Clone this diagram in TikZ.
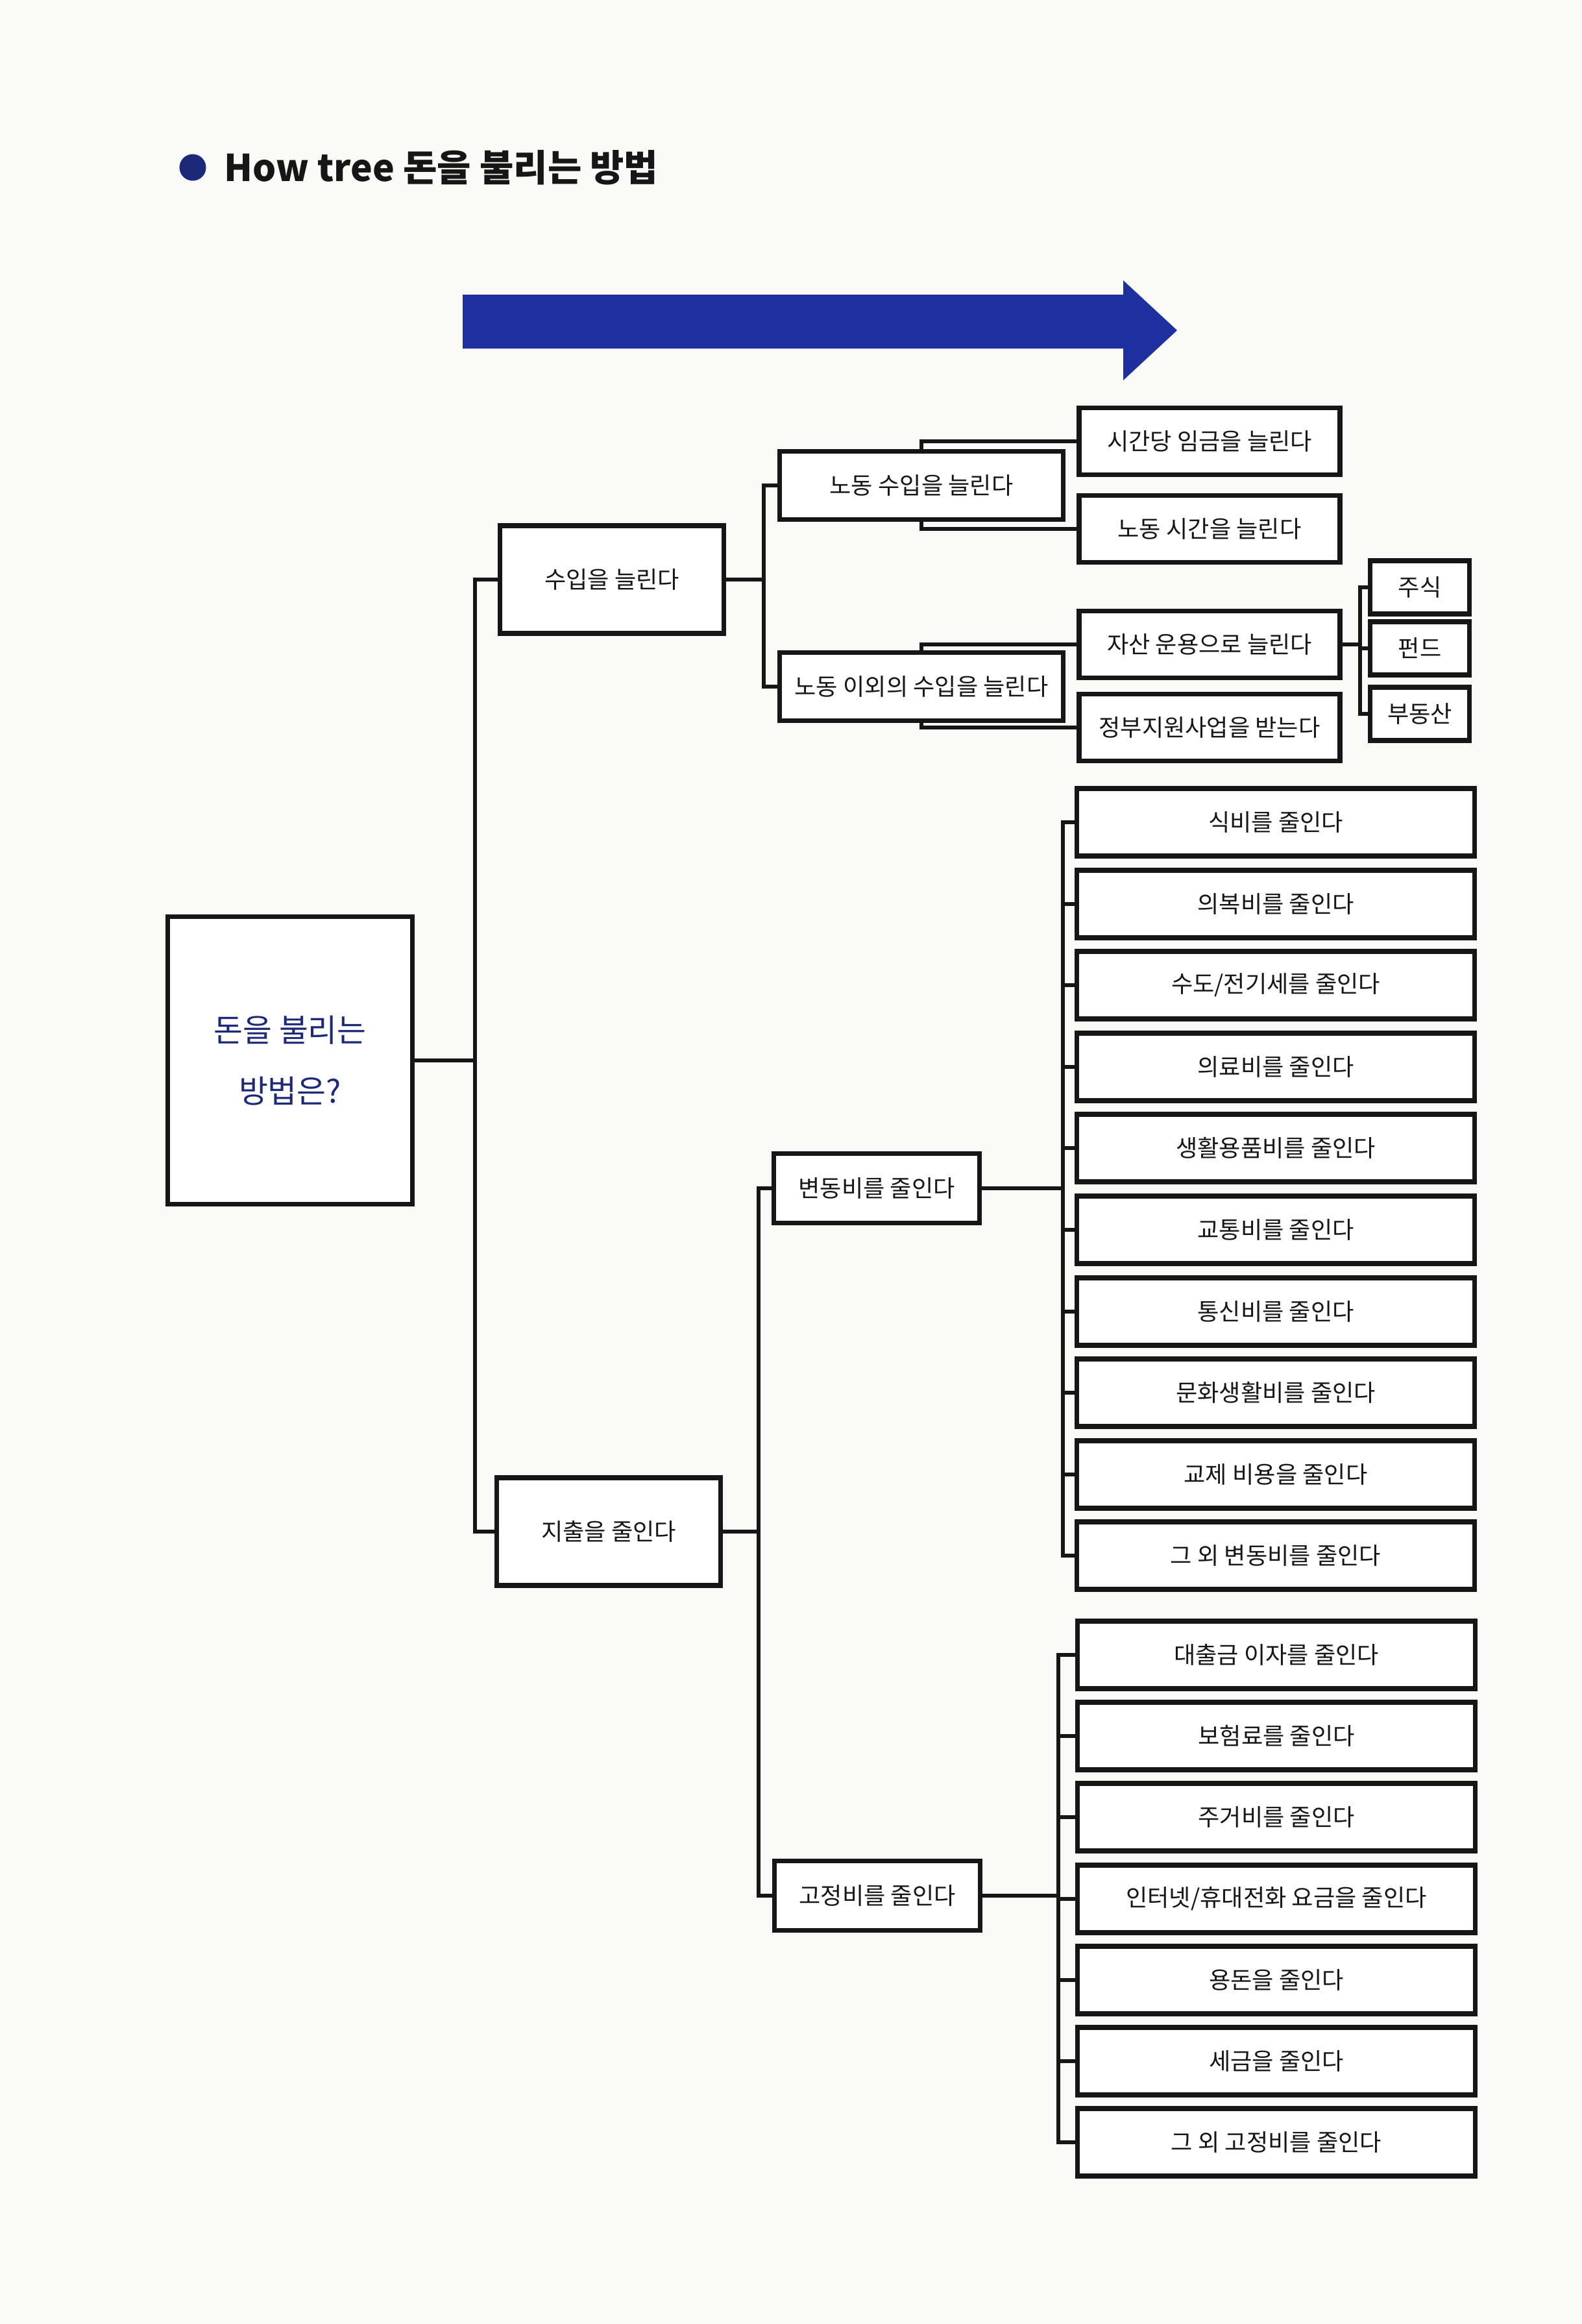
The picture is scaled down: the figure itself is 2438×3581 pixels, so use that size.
\documentclass[tikz,border=0pt]{standalone}
\usepackage{fontspec}
\newfontfamily\cjk{Noto Sans CJK KR}
\definecolor{navy}{RGB}{28,40,120}
\definecolor{arrowblue}{RGB}{30,48,158}
\definecolor{paper}{RGB}{250,250,249}
\definecolor{ink}{RGB}{22,22,22}
\pgfdeclarelayer{paperlayer}
\pgfdeclarelayer{links}
\pgfsetlayers{paperlayer,links,main}
\begin{document}
\begin{tikzpicture}[x=0.1mm,y=-0.1mm,
  box/.style={draw=ink, line width=0.75mm, fill=white, inner sep=0pt, text=ink,
    font=\cjk\fontsize{10.3pt}{12pt}\selectfont},
  lone/.style={box, minimum width=34.5mm, minimum height=16.6mm},
  ltwo/.style={box, minimum width=43.7mm, minimum height=10.5mm},
  lthree/.style={box, minimum width=40.2mm, minimum height=10.3mm},
  lfour/.style={box, minimum width=15.3mm, minimum height=8.2mm},
  costtwo/.style={box, minimum width=31.7mm, minimum height=10.7mm},
  cost/.style={box, minimum width=61.3mm, minimum height=10.4mm},
  link/.style={draw=ink, line width=0.6mm}]
\begin{pgfonlayer}{paperlayer}
\fill[paper] (0,0) rectangle (2438,3581);
\end{pgfonlayer}
\useasboundingbox (0,0) rectangle (2438,3581);

% title
\node[circle, fill=navy, minimum size=4.1mm, inner sep=0pt] (bullet) at (297,258) {};
\node[anchor=west, inner sep=0pt, text=ink, font=\cjk\bfseries\fontsize{16.2pt}{18pt}\selectfont] (title) at (345,258) {How tree 돈을 불리는 방법};

% big arrow
\fill[arrowblue] (713,454) -- (1731,454) -- (1731,432) -- (1814,509) -- (1731,586) -- (1731,537) -- (713,537) -- cycle;

% root
\node[draw=ink, line width=0.75mm, fill=white, minimum width=37.7mm, minimum height=44.3mm, inner sep=0pt,
  text=navy, align=center, font=\cjk\fontsize{13.9pt}{26.7pt}\selectfont] (root) at (447,1634) {돈을 불리는\\방법은?};

% level 1
\node[lone] (income) at (943,893) {수입을 늘린다};
\node[lone] (spend) at (938,2360) {지출을 줄인다};

% level 2
\node[ltwo] (labor) at (1420,748) {노동 수입을 늘린다};
\node[ltwo] (nonlabor) at (1420,1058) {노동 이외의 수입을 늘린다};
\node[costtwo] (var) at (1351,1831) {변동비를 줄인다};
\node[costtwo] (fix) at (1352,2921) {고정비를 줄인다};

% level 3 income
\node[lthree] (wage) at (1864,680) {시간당 임금을 늘린다};
\node[lthree] (hours) at (1864,815) {노동 시간을 늘린다};
\node[lthree] (asset) at (1864,993) {자산 운용으로 늘린다};
\node[lthree] (gov) at (1864,1121) {정부지원사업을 받는다};

% level 4
\node[lfour] (stock) at (2188,905) {주식};
\node[lfour] (fund) at (2188,999) {펀드};
\node[lfour] (realty) at (2188,1100) {부동산};

% variable costs
\node[cost] (v1) at (1966,1267) {식비를 줄인다};
\node[cost] (v2) at (1966,1393) {의복비를 줄인다};
\node[cost] (v3) at (1966,1518) {수도/전기세를 줄인다};
\node[cost] (v4) at (1966,1644) {의료비를 줄인다};
\node[cost] (v5) at (1966,1769) {생활용품비를 줄인다};
\node[cost] (v6) at (1966,1895) {교통비를 줄인다};
\node[cost] (v7) at (1966,2021) {통신비를 줄인다};
\node[cost] (v8) at (1966,2146) {문화생활비를 줄인다};
\node[cost] (v9) at (1966,2272) {교제 비용을 줄인다};
\node[cost] (v10) at (1966,2397) {그 외 변동비를 줄인다};

% fixed costs
\node[cost] (f1) at (1967,2550) {대출금 이자를 줄인다};
\node[cost] (f2) at (1967,2675) {보험료를 줄인다};
\node[cost] (f3) at (1967,2800) {주거비를 줄인다};
\node[cost] (f4) at (1967,2926) {인터넷/휴대전화 요금을 줄인다};
\node[cost] (f5) at (1967,3051) {용돈을 줄인다};
\node[cost] (f6) at (1967,3176) {세금을 줄인다};
\node[cost] (f7) at (1967,3301) {그 외 고정비를 줄인다};

\begin{pgfonlayer}{links}
\draw[link] (root.east) -- ++(93,0) |- (income.west);
\draw[link] (root.east) -- ++(93,0) |- (spend.west);
\draw[link] (income.east) -- ++(58,0) |- (labor.west);
\draw[link] (income.east) -- ++(58,0) |- (nonlabor.west);
\draw[link] (labor.center) |- (wage.west);
\draw[link] (labor.center) |- (hours.west);
\draw[link] (nonlabor.center) |- (asset.west);
\draw[link] (nonlabor.center) |- (gov.west);
\draw[link] (asset.east) -- ++(27,0) |- (stock.west);
\draw[link] (asset.east) -- ++(27,0) |- (fund.west);
\draw[link] (asset.east) -- ++(27,0) |- (realty.west);
\draw[link] (spend.east) -- ++(55,0) |- (var.west);
\draw[link] (spend.east) -- ++(55,0) |- (fix.west);
\foreach \n in {v1,v2,v3,v4,v5,v6,v7,v8,v9,v10}
  \draw[link] (var.east) -- ++(125,0) |- (\n.west);
\foreach \n in {f1,f2,f3,f4,f5,f6,f7}
  \draw[link] (fix.east) -- ++(117,0) |- (\n.west);
\end{pgfonlayer}
\end{tikzpicture}
\end{document}
